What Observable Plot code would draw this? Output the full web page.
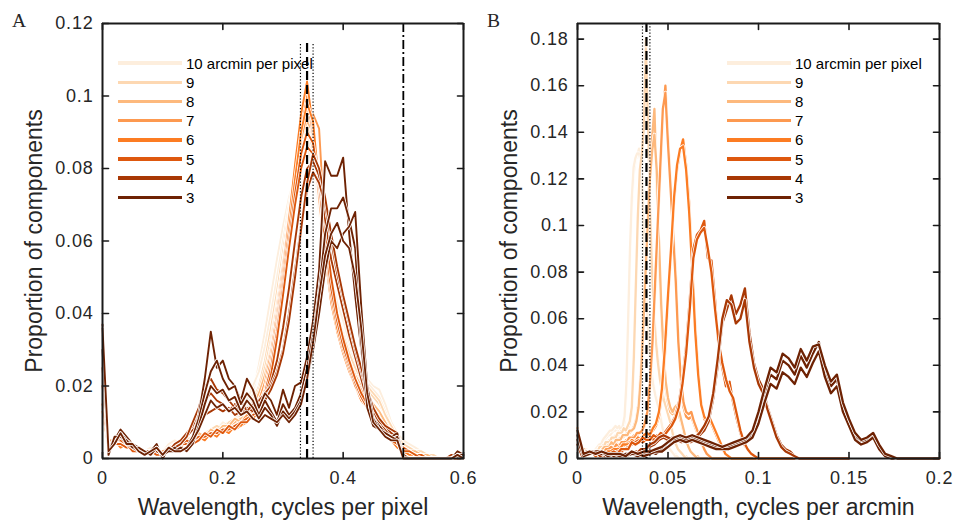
<!DOCTYPE html>
<html><head><meta charset="utf-8">
<script src="https://cdn.jsdelivr.net/npm/d3@7"></script>
<script src="https://cdn.jsdelivr.net/npm/@observablehq/plot@0.6"></script>
<style>
body{margin:0;background:#fff;font-family:"Liberation Sans",Arial,sans-serif;}
#wrap{display:flex;width:955px;height:520px;}
.letter{position:absolute;font-family:"Liberation Serif",serif;font-size:19.5px;line-height:1;color:#262626;top:11px;}
.legend{position:absolute;top:53.5px;font-size:15px;color:#000;}
.legend .row{display:flex;align-items:center;height:19.2px;white-space:nowrap;}
.legend .sw{width:64px;height:3.5px;margin-right:4px;}
g[aria-label="x-axis label"] text, g[aria-label="y-axis label"] text{font-size:23px;}
g[aria-label="x-axis tick label"] text, g[aria-label="y-axis tick label"] text{letter-spacing:0.8px;}
</style></head><body><div id="wrap"></div><script>
// shared wavelength grid (cycles per pixel)
const xGrid = [0,.01,.02,.03,.04,.05,.06,.07,.08,.09,.1,.11,.12,.13,.14,.15,.16,.17,.18,.19,.2,.21,.22,.23,.24,.25,.26,.27,.28,.29,.3,.31,.32,.33,.34,.35,.36,.37,.38,.39,.4,.41,.42,.43,.44,.45,.46,.47,.48,.49,.5,.51,.52,.53,.54,.55,.56,.57,.58,.59,.6];
const resolutions = [10,9,8,7,6,5,4,3];
const colors = ["#fdeedd","#fdd8b2","#fdb97d","#fd9950","#fc7c23","#de580e","#a83805","#6e2203"];
const legendLabels = ["10 arcmin per pixel","9","8","7","6","5","4","3"];

const ticksAx = [0,0.2,0.4,0.6];
const ticksAy = [0,0.02,0.04,0.06,0.08,0.1,0.12];
const ticksBx = [0,0.05,0.1,0.15,0.2];
const ticksBy = [0,0.02,0.04,0.06,0.08,0.1,0.12,0.14,0.16,0.18];
const domainAx = [0,0.6], domainAy = [0,0.12];
const domainBx = [0,0.2], domainBy = [0,0.1867];

const refA_dotted = [0.329,0.350], refA_dashed = [0.340], refA_dashdot = [0.5], refA_top = 0.1145;
const refB_dotted = [0.0359,0.0400], refB_dashed = [0.0381];

// Panel A: proportion per cycles-per-pixel bin, replicates per resolution
const A10 = [
[.016,.004,.004,.005,.004,.003,.003,.002,.002,.003,.002,.003,.004,.005,.004,.005,.006,.007,.007,.008,.009,.010,.010,.012,.014,.018,.026,.035,.045,.055,.064,.072,.078,.083,.086,.080,.070,.058,.050,.043,.038,.032,.027,.024,.022,.020,.019,.015,.010,.007,.005,.004,.003,.002,.001,.001,0,0,0,0,0],
[.012,.003,.005,.004,.005,.003,.002,.002,.003,.002,.002,.004,.005,.004,.005,.006,.006,.007,.008,.008,.010,.009,.011,.013,.016,.020,.024,.031,.040,.050,.060,.070,.079,.086,.090,.082,.068,.056,.047,.040,.035,.030,.026,.023,.021,.019,.017,.013,.009,.006,.004,.003,.002,.002,.001,0,0,0,0,.001,0]];
const A9 = [
[.014,.004,.004,.005,.004,.003,.002,.002,.002,.003,.001,.003,.004,.005,.005,.006,.006,.007,.008,.008,.009,.010,.010,.012,.013,.016,.020,.027,.036,.046,.057,.068,.078,.087,.092,.085,.070,.056,.046,.039,.033,.028,.024,.021,.019,.017,.015,.012,.008,.005,.004,.003,.002,.001,.001,0,0,0,0,0,0],
[.018,.005,.004,.004,.003,.003,.003,.002,.001,.002,.002,.003,.004,.004,.006,.005,.007,.006,.008,.009,.008,.010,.011,.011,.013,.015,.019,.025,.033,.043,.054,.066,.077,.088,.096,.088,.072,.058,.047,.040,.034,.029,.025,.022,.020,.018,.016,.012,.009,.006,.004,.003,.002,.002,.001,.001,0,0,0,0,0]];
const A8 = [
[.013,.004,.005,.004,.004,.003,.002,.002,.002,.002,.001,.002,.004,.004,.005,.006,.006,.007,.007,.008,.008,.009,.010,.011,.012,.014,.017,.022,.031,.042,.054,.066,.079,.090,.097,.088,.071,.056,.045,.037,.031,.026,.022,.019,.016,.014,.012,.009,.006,.004,.003,.002,.001,.001,0,0,0,0,0,0,0],
[.020,.005,.004,.005,.004,.002,.003,.002,.001,.002,.002,.003,.003,.005,.004,.005,.007,.006,.008,.007,.009,.009,.011,.010,.012,.015,.018,.023,.030,.040,.052,.065,.077,.088,.093,.090,.076,.060,.048,.039,.032,.027,.023,.020,.017,.015,.013,.010,.007,.005,.003,.002,.002,.001,.001,0,0,0,0,0,0]];
const A7 = [
[.014,.004,.004,.005,.003,.003,.002,.002,.002,.002,.001,.002,.003,.004,.005,.005,.006,.006,.007,.007,.008,.008,.009,.010,.011,.013,.016,.021,.029,.040,.053,.067,.080,.092,.100,.089,.071,.056,.044,.036,.030,.025,.021,.018,.015,.013,.011,.008,.006,.004,.003,.002,.001,.001,0,0,0,0,0,0,0],
[.024,.005,.005,.004,.004,.003,.003,.002,.001,.002,.002,.002,.004,.004,.004,.006,.005,.007,.006,.008,.007,.009,.008,.010,.012,.012,.015,.019,.027,.037,.050,.063,.076,.088,.095,.095,.091,.062,.047,.038,.031,.026,.022,.019,.016,.014,.011,.009,.006,.004,.003,.002,.001,.001,0,0,0,0,0,0,0]];
const A6 = [
[.013,.003,.004,.004,.003,.003,.002,.002,.001,.002,.001,.002,.003,.004,.004,.005,.005,.006,.006,.007,.007,.008,.008,.009,.010,.012,.014,.019,.027,.038,.051,.066,.081,.095,.104,.091,.072,.056,.043,.035,.029,.024,.020,.016,.014,.012,.010,.008,.005,.004,.002,.002,.001,0,0,0,0,0,0,0,0],
[.030,.004,.005,.003,.004,.002,.003,.001,.002,.002,.001,.003,.003,.003,.005,.004,.006,.005,.007,.006,.008,.007,.009,.009,.011,.011,.013,.018,.025,.036,.049,.063,.077,.090,.098,.093,.075,.058,.045,.036,.030,.025,.020,.017,.014,.012,.010,.007,.005,.003,.002,.001,.001,0,0,0,0,0,0,0,0]];
const A5 = [
[.015,.004,.004,.004,.003,.003,.002,.002,.001,.002,.001,.002,.003,.004,.004,.005,.006,.006,.007,.007,.008,.008,.009,.010,.011,.012,.014,.018,.025,.035,.047,.060,.073,.084,.090,.087,.076,.060,.047,.038,.031,.026,.021,.017,.014,.012,.010,.008,.006,.004,.003,.002,.001,.001,0,0,0,0,0,0,0],
[.020,.003,.005,.005,.004,.002,.002,.001,.002,.001,.001,.002,.002,.004,.005,.004,.005,.007,.006,.008,.007,.009,.008,.010,.010,.012,.013,.017,.023,.033,.045,.058,.070,.080,.086,.084,.078,.064,.050,.040,.033,.027,.022,.018,.015,.012,.010,.008,.005,.004,.002,.002,.001,0,0,0,0,0,0,0,0]];
const A4 = [
[.030,.002,.005,.007,.005,.004,.003,.002,.001,.003,.001,.002,.003,.004,.006,.008,.010,.012,.013,.014,.013,.014,.012,.013,.014,.014,.015,.017,.021,.027,.036,.047,.060,.072,.080,.082,.078,.066,.055,.048,.041,.034,.028,.022,.016,.012,.010,.008,.006,.005,.001,0,0,0,0,0,0,0,0,.001,0],
[.025,.003,.004,.006,.004,.003,.002,.002,.002,.002,.001,.002,.004,.005,.007,.009,.012,.016,.018,.016,.015,.013,.015,.012,.014,.013,.016,.018,.020,.024,.030,.040,.052,.064,.074,.079,.076,.070,.060,.051,.044,.037,.030,.024,.018,.013,.010,.009,.007,.006,.001,0,0,0,0,0,0,0,0,.001,0],
[.035,.002,.006,.007,.005,.004,.003,.002,.002,.003,.001,.002,.003,.004,.006,.010,.014,.020,.022,.019,.018,.016,.014,.016,.013,.015,.014,.016,.019,.023,.029,.038,.050,.063,.076,.084,.080,.072,.062,.053,.045,.038,.031,.025,.019,.014,.011,.009,.008,.007,.001,0,0,0,0,0,0,0,.001,.001,0]];
const A3 = [
[.037,.001,.005,.008,.006,.004,.003,.001,.002,.004,0,.003,.002,.003,.002,.005,.012,.022,.035,.025,.027,.022,.020,.016,.022,.019,.014,.018,.016,.012,.019,.014,.020,.021,.028,.038,.052,.082,.078,.078,.083,.062,.045,.030,.017,.011,.009,.007,.006,.007,0,0,0,0,0,0,0,0,0,.002,.001],
[.034,.002,.004,.007,.005,.004,.002,.002,.001,.003,.001,.002,.003,.002,.003,.006,.011,.018,.024,.027,.022,.019,.020,.015,.018,.016,.012,.016,.013,.010,.015,.012,.014,.018,.025,.034,.046,.062,.069,.069,.072,.066,.058,.032,.014,.009,.008,.006,.005,.006,0,0,0,0,0,0,0,0,0,.001,.001],
[.030,.001,.006,.006,.005,.003,.003,.002,.001,.003,.001,.002,.002,.003,.002,.004,.009,.015,.020,.018,.019,.016,.017,.013,.016,.014,.011,.014,.012,.009,.013,.011,.013,.016,.022,.030,.040,.052,.060,.058,.062,.064,.068,.042,.020,.011,.008,.007,.006,.005,0,0,0,0,0,0,0,0,0,.001,0],
[.036,.002,.004,.007,.004,.004,.002,.001,.002,.003,.001,.003,.002,.002,.003,.005,.008,.012,.016,.014,.015,.013,.014,.012,.013,.011,.010,.012,.011,.010,.012,.010,.012,.015,.022,.032,.045,.056,.062,.065,.060,.058,.050,.036,.018,.010,.008,.006,.005,.005,0,0,0,0,0,0,0,0,0,.001,0]];

// Panel B: proportion per cycles-per-arcmin bin (same grid divided by arcmin per pixel)
const B10 = [
[.012,.003,.004,.003,.004,.003,.002,.003,.002,.003,.003,.004,.005,.006,.007,.008,.009,.010,.010,.011,.012,.012,.013,.012,.013,.012,.016,.028,.055,.085,.108,.122,.128,.130,.133,.130,.118,.095,.075,.058,.046,.038,.032,.028,.025,.022,.018,.014,.011,.008,.006,.004,.003,.002,.002,.001,0,0,0,0,0],
[.010,.004,.003,.004,.003,.004,.003,.002,.003,.002,.004,.005,.006,.006,.008,.009,.010,.011,.012,.012,.013,.014,.013,.014,.012,.014,.018,.032,.060,.090,.112,.125,.129,.131,.131,.127,.112,.090,.070,.055,.044,.036,.031,.027,.024,.021,.017,.013,.010,.007,.005,.004,.003,.002,.001,.001,0,0,0,0,0]];
const B9 = [
[.011,.003,.003,.004,.003,.003,.002,.002,.003,.003,.004,.004,.005,.006,.006,.007,.008,.008,.009,.010,.010,.011,.012,.012,.013,.013,.015,.020,.040,.070,.100,.122,.130,.140,.180,.150,.112,.085,.065,.052,.043,.036,.030,.026,.023,.020,.017,.013,.009,.006,.004,.003,.002,.001,.001,0,0,0,0,0,0],
[.013,.004,.003,.003,.004,.002,.003,.002,.002,.003,.003,.005,.005,.005,.007,.007,.007,.009,.009,.009,.011,.011,.011,.013,.012,.014,.016,.022,.043,.074,.104,.124,.131,.142,.176,.146,.108,.082,.063,.050,.041,.034,.029,.025,.022,.019,.016,.012,.008,.006,.004,.003,.002,.001,0,0,0,0,0,0,0]];
const B8 = [
[.012,.003,.004,.003,.003,.003,.002,.002,.003,.002,.003,.004,.004,.005,.006,.006,.007,.007,.008,.009,.009,.010,.011,.011,.012,.014,.017,.024,.038,.058,.082,.105,.125,.138,.150,.118,.088,.062,.042,.030,.024,.020,.019,.020,.021,.018,.015,.011,.008,.005,.003,.002,.001,.001,0,0,0,0,0,0,0],
[.010,.004,.003,.004,.003,.002,.003,.002,.002,.003,.002,.004,.005,.005,.005,.007,.006,.008,.008,.008,.010,.010,.010,.012,.012,.013,.016,.022,.035,.055,.078,.100,.120,.132,.139,.124,.094,.066,.046,.033,.026,.022,.020,.022,.023,.020,.016,.012,.008,.005,.003,.002,.001,0,0,0,0,0,0,0,0]];
const B7 = [
[.011,.002,.003,.003,.003,.002,.002,.002,.002,.002,.003,.003,.004,.004,.005,.005,.006,.006,.007,.008,.008,.009,.010,.010,.011,.012,.014,.019,.030,.048,.072,.098,.122,.148,.160,.138,.118,.098,.080,.052,.032,.022,.018,.017,.018,.015,.012,.009,.006,.004,.002,.001,0,0,0,0,0,0,0,0,0],
[.013,.003,.002,.003,.002,.003,.002,.001,.002,.003,.002,.004,.004,.005,.004,.006,.005,.007,.007,.007,.009,.009,.009,.011,.011,.012,.015,.020,.032,.050,.075,.100,.125,.150,.157,.135,.116,.096,.076,.050,.034,.024,.020,.019,.020,.016,.013,.010,.007,.004,.002,.001,0,0,0,0,0,0,0,0,0]];
const B6 = [
[.010,.002,.003,.002,.003,.002,.002,.002,.001,.002,.002,.003,.003,.004,.005,.005,.006,.007,.006,.008,.008,.009,.009,.010,.011,.012,.014,.018,.028,.045,.068,.088,.110,.124,.132,.137,.126,.110,.085,.058,.038,.024,.017,.015,.016,.013,.010,.007,.004,.002,.001,0,0,0,0,0,0,0,0,0,0],
[.012,.003,.002,.003,.002,.003,.002,.001,.002,.002,.003,.003,.004,.004,.004,.006,.006,.006,.008,.007,.009,.008,.010,.011,.010,.013,.015,.020,.030,.048,.070,.090,.112,.126,.133,.134,.124,.106,.082,.055,.036,.023,.018,.016,.017,.014,.011,.008,.005,.002,.001,0,0,0,0,0,0,0,0,0,0]];
const B5 = [
[.010,.002,.002,.003,.002,.002,.001,.002,.001,.002,.002,.003,.003,.004,.005,.006,.007,.008,.007,.008,.009,.008,.010,.009,.011,.013,.015,.018,.024,.034,.048,.068,.090,.096,.098,.102,.086,.085,.068,.047,.039,.031,.033,.024,.017,.011,.006,.004,.002,.001,0,0,0,0,0,0,0,0,0,0,0],
[.012,.003,.002,.002,.003,.001,.002,.001,.002,.002,.003,.002,.004,.004,.004,.007,.006,.007,.009,.008,.008,.010,.009,.011,.010,.012,.014,.017,.022,.032,.045,.064,.086,.094,.097,.099,.090,.080,.064,.050,.041,.034,.029,.026,.019,.012,.007,.004,.002,.001,0,0,0,0,0,0,0,0,0,0,0]];
const B4 = [
[.008,.002,.003,.003,.002,.002,.001,.001,.001,.002,.001,.002,.002,.003,.003,.004,.005,.006,.008,.009,.008,.009,.008,.007,.008,.007,.008,.010,.012,.016,.026,.040,.058,.064,.070,.062,.066,.073,.054,.041,.034,.030,.022,.016,.010,.006,.004,.003,.001,0,0,0,0,0,0,0,0,0,0,0,0],
[.006,.001,.002,.002,.003,.001,.002,.001,.002,.001,.002,.001,.003,.002,.004,.004,.006,.007,.009,.010,.009,.008,.009,.008,.007,.008,.009,.011,.014,.018,.028,.043,.060,.068,.066,.058,.060,.068,.050,.039,.032,.028,.021,.015,.009,.005,.003,.002,.001,0,0,0,0,0,0,0,0,0,0,0,0]];
const B3 = [
[.010,.002,.003,.003,.002,.002,.001,.001,.002,.002,.001,.002,.003,.002,.004,.006,.008,.009,.008,.009,.008,.007,.006,.005,.004,.005,.006,.007,.008,.011,.018,.028,.036,.034,.042,.040,.036,.044,.039,.045,.050,.038,.031,.034,.022,.016,.010,.007,.008,.010,.005,.002,.001,0,0,0,0,0,0,0,0],
[.008,.001,.002,.003,.003,.001,.002,.001,.001,.002,.002,.001,.002,.003,.003,.005,.007,.008,.007,.008,.007,.006,.005,.004,.004,.004,.005,.006,.007,.009,.015,.024,.032,.030,.037,.035,.032,.039,.035,.041,.046,.035,.028,.031,.020,.014,.008,.006,.007,.009,.004,.001,0,0,0,0,0,0,0,0,0],
[.012,.002,.003,.002,.003,.002,.002,.002,.001,.003,.002,.003,.003,.004,.005,.007,.009,.010,.009,.010,.009,.008,.007,.006,.005,.006,.007,.008,.009,.012,.020,.030,.039,.037,.045,.043,.039,.047,.042,.048,.049,.040,.033,.036,.024,.017,.011,.008,.009,.011,.006,.002,.001,0,0,0,0,0,0,0,0]];

const seriesA = [A10,A9,A8,A7,A6,A5,A4,A3];
const seriesB = [B10,B9,B8,B7,B6,B5,B4,B3];

const fmt = d3.format("~g");
const tickShape = {draw(context, l) { context.moveTo(0, 0); context.lineTo(0, -l); }};
const AXC = "#1a1a1a";

function buildPanel(cfg) {
  const marks = [];
  cfg.series.forEach((reps, k) => {
    const res = resolutions[k], color = colors[k];
    reps.forEach(ys => {
      const data = ys.map((y, i) => ({x: cfg.xOf(xGrid[i], res), y}));
      marks.push(Plot.line(data, {x: "x", y: "y", stroke: "white", strokeWidth: cfg.lw + 1.5}));
      marks.push(Plot.line(data, {x: "x", y: "y", stroke: color, strokeWidth: cfg.lw}));
    });
  });
  const span = cfg.refTop != null ? {y1: 0, y2: cfg.refTop} : {};
  marks.push(Plot.ruleX(cfg.dotted, {...span, stroke: "#000", strokeWidth: 1.2, strokeDasharray: "1.2,2"}));
  marks.push(Plot.ruleX(cfg.dashed, {...span, stroke: "#000", strokeWidth: 2.2, strokeDasharray: "9,5"}));
  if (cfg.dashdot) marks.push(Plot.ruleX(cfg.dashdot, {stroke: "#000", strokeWidth: 1.8, strokeDasharray: "9,3,2,3"}));
  // inward ticks on all four sides (box style)
  const [x0, x1] = cfg.xDomain, [y0, y1] = cfg.yDomain;
  const tk = {length: 6, anchor: "start", shape: tickShape, stroke: AXC, strokeWidth: 1.6};
  marks.push(Plot.vector(cfg.xTicks, {...tk, x: d => d, y: () => y0, rotate: 0}));
  marks.push(Plot.vector(cfg.xTicks, {...tk, x: d => d, y: () => y1, rotate: 180}));
  marks.push(Plot.vector(cfg.yTicks, {...tk, x: () => x0, y: d => d, rotate: 90}));
  marks.push(Plot.vector(cfg.yTicks, {...tk, x: () => x1, y: d => d, rotate: 270}));
  // box
  marks.push(Plot.ruleX(cfg.xDomain, {stroke: AXC, strokeWidth: 2}));
  marks.push(Plot.ruleY(cfg.yDomain, {stroke: AXC, strokeWidth: 2}));
  marks.push(Plot.axisX(cfg.xTicks, {anchor: "bottom", tickSize: 0, tickPadding: 12.5, tickFormat: fmt, fontSize: 18,
    label: cfg.xLabel, labelAnchor: "center", labelOffset: 56, labelArrow: false}));
  marks.push(Plot.axisY(cfg.yTicks, {anchor: "left", tickSize: 0, tickPadding: 9, tickFormat: fmt, fontSize: 18,
    label: "Proportion of components", labelAnchor: "center", labelOffset: 77, labelArrow: false}));

  const svg = Plot.plot({
    width: cfg.width, height: 520,
    marginLeft: cfg.ml, marginRight: cfg.mr, marginTop: 23, marginBottom: 62,
    x: {domain: cfg.xDomain}, y: {domain: cfg.yDomain},
    style: {color: "#262626", fontFamily: "'Liberation Sans', Arial, sans-serif"},
    marks
  });
  document.getElementById("wrap").appendChild(svg);

  const letter = document.createElement("div");
  letter.className = "letter"; letter.textContent = cfg.letter; letter.style.left = cfg.letterLeft + "px";
  document.body.appendChild(letter);
  const leg = document.createElement("div");
  leg.className = "legend"; leg.style.left = cfg.legendLeft + "px";
  legendLabels.forEach((lab, k) => {
    const row = document.createElement("div"); row.className = "row";
    const sw = document.createElement("div"); sw.className = "sw"; sw.style.background = colors[k];
    const t = document.createElement("span"); t.textContent = lab;
    row.appendChild(sw); row.appendChild(t); leg.appendChild(row);
  });
  document.body.appendChild(leg);
}

buildPanel({
  width: 477, ml: 102, mr: 14, xDomain: domainAx, yDomain: domainAy, xTicks: ticksAx, yTicks: ticksAy,
  xLabel: "Wavelength, cycles per pixel", series: seriesA, xOf: (x, r) => x, lw: 1.9,
  dotted: refA_dotted, dashed: refA_dashed, dashdot: refA_dashdot, refTop: refA_top,
  letter: "A", letterLeft: 12, legendLeft: 118
});
buildPanel({
  width: 478, ml: 100, mr: 16, xDomain: domainBx, yDomain: domainBy, xTicks: ticksBx, yTicks: ticksBy,
  xLabel: "Wavelength, cycles per arcmin", series: seriesB, xOf: (x, r) => x / r, lw: 2.3,
  dotted: refB_dotted, dashed: refB_dashed, dashdot: null, refTop: null,
  letter: "B", letterLeft: 487, legendLeft: 727
});
</script></body></html>
